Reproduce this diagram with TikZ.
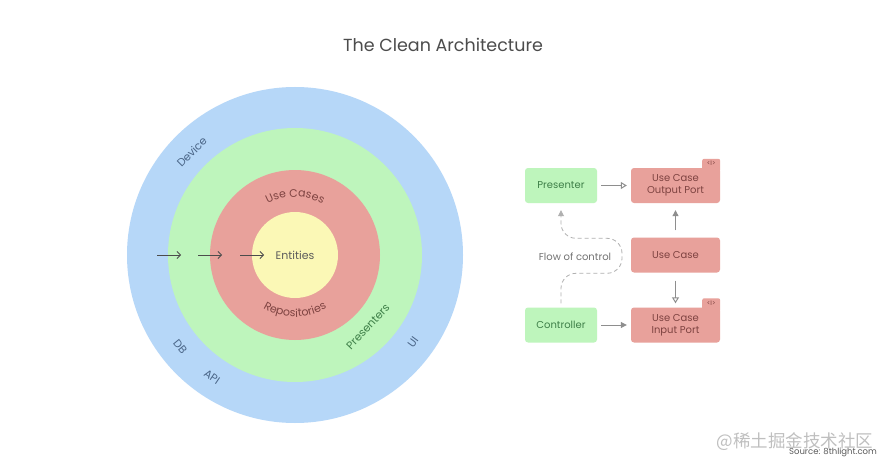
\documentclass[tikz,border=0pt]{standalone}
\usepackage{fontspec}
\setmainfont{Poppins}
\newfontfamily\cjkfont{Noto Sans CJK SC}
\usetikzlibrary{arrows.meta,calc,decorations.text}

\definecolor{outerblue}{HTML}{B6D7F8}
\definecolor{adaptgreen}{HTML}{BEF5BC}
\definecolor{caseRed}{HTML}{E8A19B}
\definecolor{coreyellow}{HTML}{FBF8B6}
\definecolor{outertext}{HTML}{4A6587}
\definecolor{greentext}{HTML}{3E7F48}
\definecolor{redtext}{HTML}{7E4341}
\definecolor{coretext}{HTML}{5C5C5C}
\definecolor{linegrey}{HTML}{8E8E8E}

\tikzset{
	labelfont/.style={font=\fontsize{10}{12}\selectfont},
	ringlabel/.style={font=\fontsize{11}{13}\selectfont, inner sep=0pt},
	box/.style={rounded corners=3pt, minimum height=35pt, align=center, labelfont, inner sep=2pt},
	adapter/.style={box, fill=adaptgreen, text=greentext, minimum width=72pt},
	port/.style={box, fill=caseRed, text=redtext, minimum width=89pt},
	tabbox/.style={fill=caseRed, rounded corners=2pt},
	openflow/.style={draw=linegrey, line width=1pt, -{Triangle[open,length=6pt,width=7pt]}},
	fullflow/.style={draw=linegrey, line width=1pt, -{Triangle[length=6pt,width=6pt]}},
	layerarrow/.style={draw=black!70, line width=0.8pt, -{Straight Barb[length=3.5pt,width=7pt]}}
}

\begin{document}
\begin{tikzpicture}[x=1pt,y=1pt]
		%%%%% START %%%%%
		\useasboundingbox[fill=white] (0,0) rectangle (892,467);
		
		\node[font=\fontsize{17.5}{21}\selectfont, text=black!70] (title) at (443,422) {The Clean Architecture};
		
		% rings
		\coordinate (core) at (295,212);
		\fill[outerblue] (core) circle (168);
		\fill[adaptgreen] (core) circle (127);
		\fill[caseRed] (core) circle (85);
		\fill[coreyellow] (core) circle (43);
		
		\node[ringlabel, text=coretext] (entities) at (core) {Entities};
		
		\path[decorate, decoration={text along path, text align=center,
			text={|\fontsize{11}{13}\selectfont\color{redtext}|Use Cases}}]
			($(core)+(160:58)$) arc[start angle=160, end angle=20, radius=58];
		\path[decorate, decoration={text along path, text align=center,
			text={|\fontsize{11}{13}\selectfont\color{redtext}|Repositories}}]
			($(core)+(200:62)$) arc[start angle=200, end angle=340, radius=62];
		
		\node[ringlabel, text=greentext, rotate=47] (presenters) at ($(core)+(-44.6:102.5)$) {Presenters};
		\node[ringlabel, text=outertext, rotate=45] (device) at ($(core)+(135:146)$) {Device};
		\node[ringlabel, text=outertext, rotate=-51] (db) at ($(core)+(218.7:147)$) {DB};
		\node[ringlabel, text=outertext, rotate=-34] (api) at ($(core)+(235.8:147.6)$) {API};
		\node[ringlabel, text=outertext, rotate=53.6] (ui) at ($(core)+(-36.4:146.6)$) {UI};
		
		\coordinate (a1) at (157,212);
		\coordinate (a2) at (198,212);
		\coordinate (a3) at (240,212);
		\foreach \p in {a1,a2,a3}
			\draw[layerarrow] (\p) -- ++(24,0);
		
		% flow of control
		\node[port] (outport) at (675.5,281.5) {Use Case\\Output Port};
		\node[port] (usecase) at (675.5,212) {Use Case};
		\node[port] (inport) at (675.5,142) {Use Case\\Input Port};
		\node[adapter] (presenter) at (561,281.5) {Presenter};
		\node[adapter] (controller) at (561,142) {Controller};
		
		\foreach \b in {outport,inport} {
			\fill[tabbox] ($(\b.north east)+(-18,-4)$) rectangle ++(18,13);
			\node[font=\fontsize{6.5}{7}\selectfont, text=redtext, inner sep=0pt] (\b tab) at ($(\b.north east)+(-9,4.5)$) {<I>};
		}
		
		\draw[openflow] ([xshift=4pt]presenter.east) -- ([xshift=-4pt]outport.west);
		\draw[fullflow] ([yshift=7pt]usecase.north) -- ([yshift=-7pt]outport.south);
		\draw[openflow] ([yshift=-8pt]usecase.south) -- ([yshift=4pt]inport.north);
		\draw[fullflow] ([xshift=4pt]controller.east) -- ([xshift=-4pt]inport.west);
		
		\draw[linegrey!70, line width=0.8pt, dash pattern=on 4pt off 3pt, rounded corners=15pt, -{Triangle[length=6pt,width=6pt]}]
			([yshift=4pt]controller.north) -- ++(0,30) -- ++(61,0) -- ++(0,35) -- ++(-61,0)
			-- ([yshift=-7pt]presenter.south);
		\node[labelfont, text=black!55, fill=white, inner sep=1pt] (flowlabel) at (575,210) {Flow of control};
		
		% watermark
		\node[font=\cjkfont\fontsize{17.5}{20}\selectfont, text=black!25] (mark) at (795,25) {@稀土掘金技术社区};
		\node[font=\fontsize{8.5}{10}\selectfont, text=black!65, inner sep=0pt] (source) at (833,15) {Source: 8thlight.com};
		%%%%% END %%%%%
\end{tikzpicture}
\end{document}
